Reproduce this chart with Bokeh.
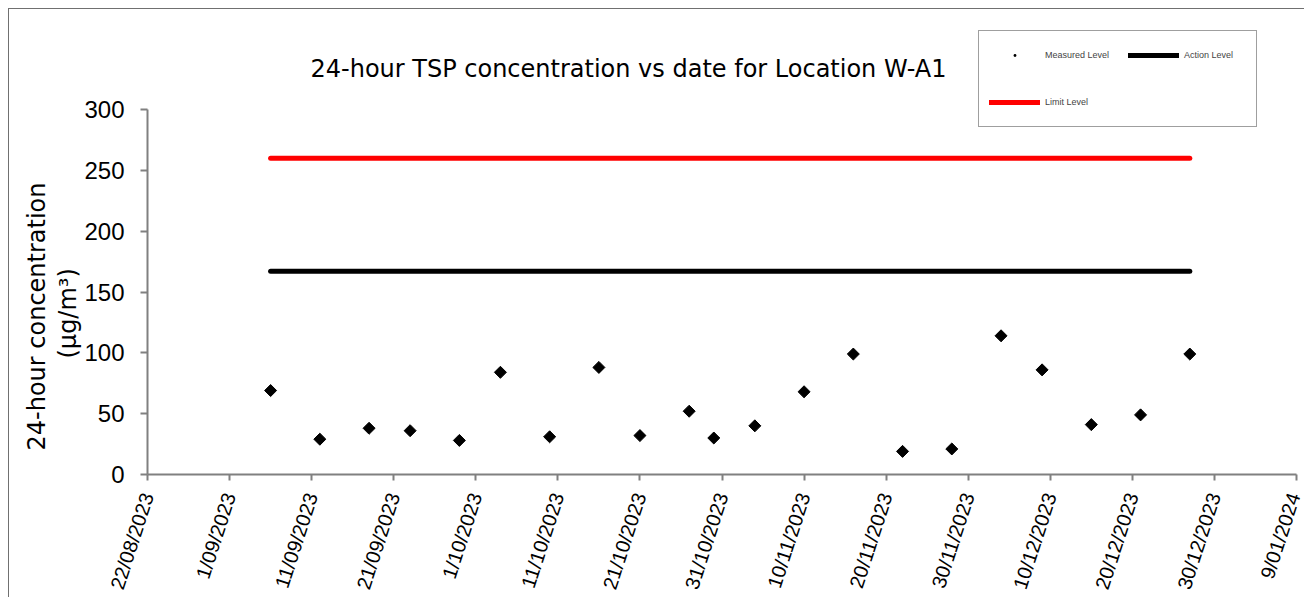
import math
import pandas as pd
from bokeh.plotting import figure
from bokeh.models import (Range1d, FixedTicker, Legend, LegendItem, Label, Title,
                          ColumnDataSource)
from bokeh.embed import file_html
from bokeh.resources import INLINE

# ---- data ----
sample_dates = ["2023-09-06", "2023-09-12", "2023-09-18", "2023-09-23", "2023-09-29",
                "2023-10-04", "2023-10-10", "2023-10-16", "2023-10-21", "2023-10-27",
                "2023-10-30", "2023-11-04", "2023-11-10", "2023-11-16", "2023-11-22",
                "2023-11-28", "2023-12-04", "2023-12-09", "2023-12-15", "2023-12-21",
                "2023-12-27"]
measured = [69, 29, 38, 36, 28, 84, 31, 88, 32, 52, 30, 40, 68, 99, 19, 21, 114, 86, 41, 49, 99]
action_level = 167
limit_level = 260
tick_dates = ["2023-08-22", "2023-09-01", "2023-09-11", "2023-09-21", "2023-10-01",
              "2023-10-11", "2023-10-21", "2023-10-31", "2023-11-10", "2023-11-20",
              "2023-11-30", "2023-12-10", "2023-12-20", "2023-12-30", "2024-01-09"]
tick_labels = ["22/08/2023", "1/09/2023", "11/09/2023", "21/09/2023", "1/10/2023",
               "11/10/2023", "21/10/2023", "31/10/2023", "10/11/2023", "20/11/2023",
               "30/11/2023", "10/12/2023", "20/12/2023", "30/12/2023", "9/01/2024"]
y_ticks = [0, 50, 100, 150, 200, 250, 300]
title_text = "24-hour TSP concentration vs date for Location W-A1"
y_label_lines = ["24-hour concentration", "(µg/m³)"]

FONT = "Liberation Sans"
WIDE = "DejaVu Sans"

x = pd.to_datetime(sample_dates)
ticks_dt = pd.to_datetime(tick_dates)
tick_ms = [int(t.value // 10**6) for t in ticks_dt]

p = figure(width=1296, height=589, x_axis_type="datetime",
           output_backend="svg", toolbar_location=None,
           min_border_left=138, min_border_right=9, min_border_top=1,
           min_border_bottom=110, title=None)
p.x_range = Range1d(start=ticks_dt[0], end=ticks_dt[-1])
# axis shown only 0..300, frame extends above to hold title and legend
p.y_range = Range1d(start=0, end=300 * 464 / 365)
p.styles = {"border-left": "1px solid #707070", "border-top": "1px solid #707070",
            "margin-left": "8px", "margin-top": "8px"}

p.outline_line_color = None
p.grid.grid_line_color = None
p.background_fill_color = "white"
p.border_fill_color = "white"

src = ColumnDataSource(dict(x=x, y=measured))
lines_x = [x[0], x[-1]]
r_action = p.line(lines_x, [action_level, action_level], line_color="black",
                  line_width=5, line_cap="round")
r_limit = p.line(lines_x, [limit_level, limit_level], line_color="#FF0000",
                 line_width=5, line_cap="round")
r_meas = p.scatter("x", "y", source=src, marker="square", angle=math.pi / 4,
                   size=8.5, fill_color="black", line_color="black")
# legend proxy (small dot), its single point is not drawn (NaN)
r_meas_leg = p.scatter(x=[x[0]], y=[float("nan")], marker="dot", size=14,
                       fill_color="black", line_color="black", line_width=1.5)

# axes
xa = p.xaxis[0]
xa.ticker = FixedTicker(ticks=tick_ms)
xa.major_label_overrides = {t: l for t, l in zip(tick_ms, tick_labels)}
xa.major_label_orientation = math.radians(72)
xa.major_label_text_font = FONT
xa.major_label_text_font_size = "20px"
xa.major_label_text_color = "black"
xa.axis_line_color = "#808080"
xa.axis_line_width = 2
xa.major_tick_line_color = "#808080"
xa.major_tick_line_width = 2
xa.major_tick_out = 6
xa.major_tick_in = 0
xa.minor_tick_line_color = None
xa.major_label_standoff = 13

ya = p.yaxis[0]
ya.bounds = (0, 300)
ya.ticker = FixedTicker(ticks=y_ticks)
ya.major_label_text_font = FONT
ya.major_label_text_font_size = "24px"
ya.major_label_text_color = "black"
ya.axis_line_color = "#808080"
ya.axis_line_width = 2
ya.major_tick_line_color = "#808080"
ya.major_tick_line_width = 2
ya.major_tick_out = 7
ya.major_tick_in = 0
ya.minor_tick_line_color = None
ya.major_label_standoff = 16

# y-axis label as two left-side titles (closest to axis first)
t2 = Title(text=y_label_lines[1], align="left", offset=116, standoff=0,
           text_font=WIDE, text_font_size="24px", text_font_style="normal",
           text_color="black")
t1 = Title(text=y_label_lines[0], align="left", offset=24, standoff=2,
           text_font=WIDE, text_font_size="24px", text_font_style="normal",
           text_color="black")
p.add_layout(t2, "left")
p.add_layout(t1, "left")

title = Label(x=481, y=406, x_units="screen", y_units="screen", text=title_text,
              text_align="center", text_baseline="middle",
              text_font=WIDE, text_font_size="24px", text_color="black")
p.add_layout(title)

legend = Legend(items=[LegendItem(label="Measured Level", renderers=[r_meas_leg]),
                       LegendItem(label="Action Level", renderers=[r_action]),
                       LegendItem(label="Limit Level", renderers=[r_limit])],
                location=(831, 347), orientation="horizontal", ncols=2,
                glyph_width=51, glyph_height=28, label_height=28, label_width=62,
                label_standoff=5, spacing=19, padding=10, margin=0,
                label_text_font=FONT, label_text_font_size="9px",
                border_line_color="#404040", border_line_width=1,
                background_fill_color="white", background_fill_alpha=1)
p.add_layout(legend, "center")

open("out.html", "w").write(file_html(p, INLINE))
